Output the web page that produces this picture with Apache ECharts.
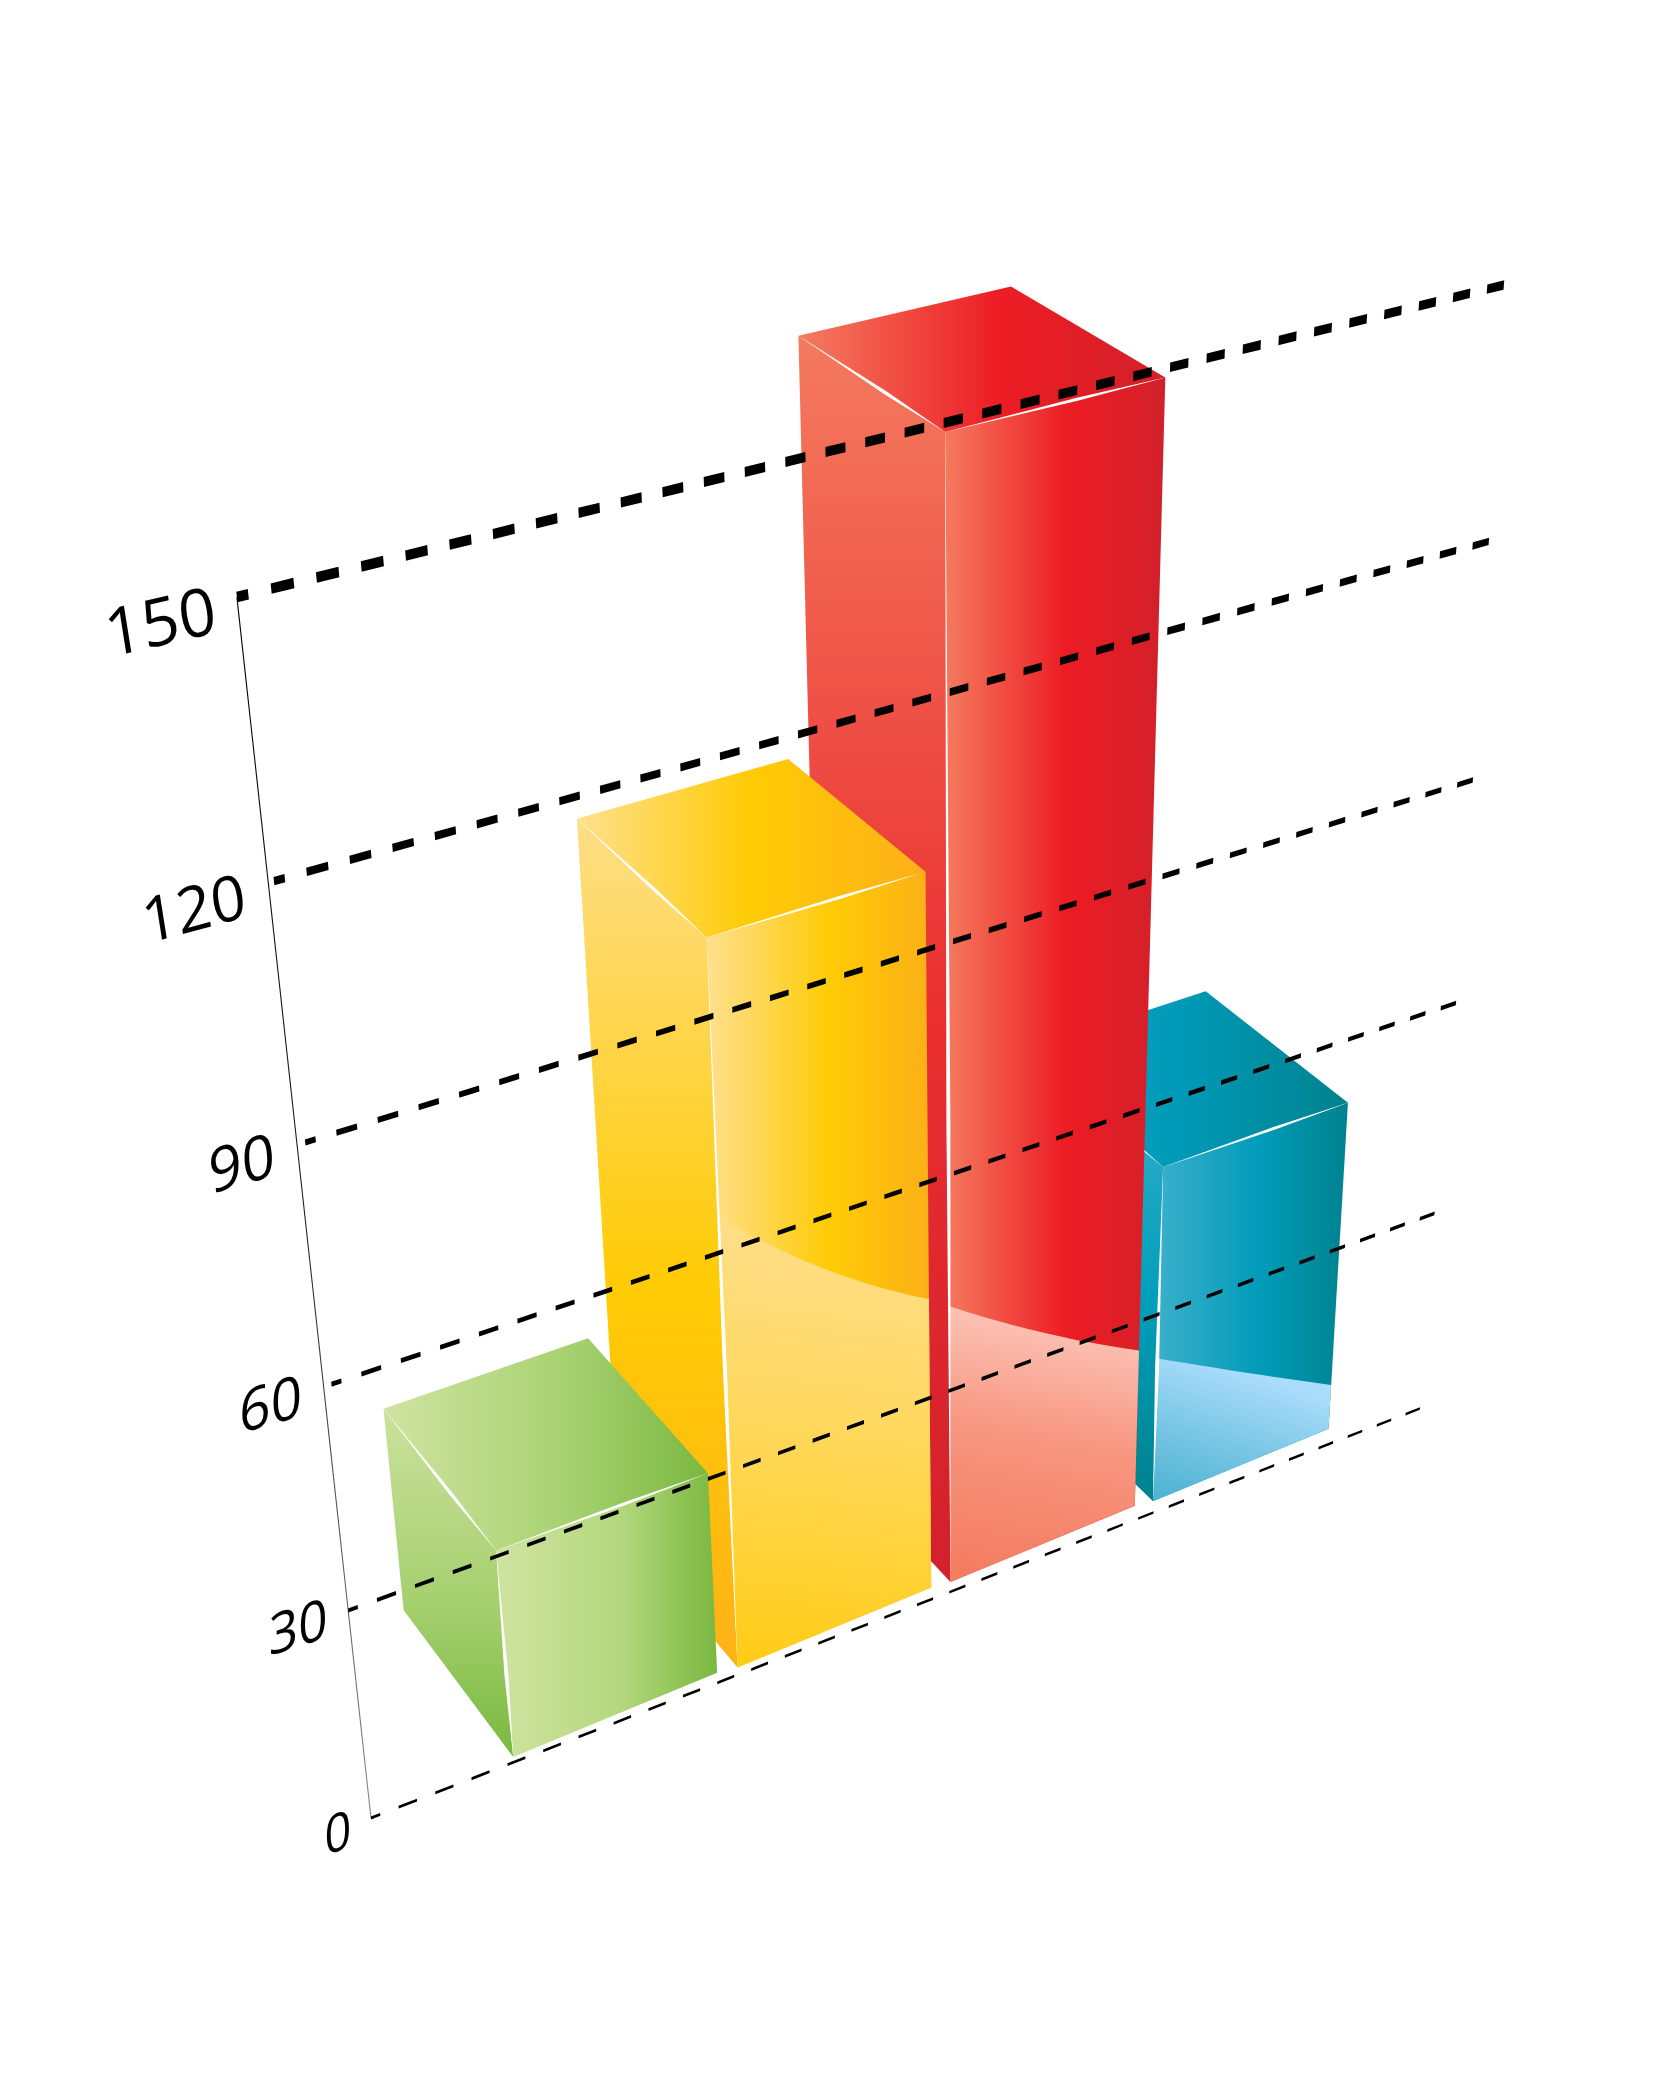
<!DOCTYPE html>
<html><head><meta charset="utf-8">
<style>html,body{margin:0;padding:0;background:#fff}#chart{width:1667px;height:2083px}</style>
<script src="https://cdn.jsdelivr.net/npm/echarts@6/dist/echarts.min.js"></script>
</head><body><div id="chart"></div>
<script>
// ---- data ----
const barNames = ['Green', 'Yellow', 'Red', 'Blue'];
const barValues = [30.8, 99.6, 149, 51];
const gridTicks = [0, 30, 60, 90, 120, 150];
const tickLabels = ['0', '30', '60', '90', '120', '150'];
// height (axis value) of the pale reflection edge on each front face: left, middle, right
const reflectLevels = [null, [64.5, 52.9, 44], [42, 33.2, 25.7], [23.5, 16.3, 9.3]];
// height at which each bar's foot sits above the zero line
const baseLevels = [0.8, 1.1, 1.5, 1.8];

// ---- styles ----
const barPalette = [
  { right: ['#cfe3a0', '#b5d87f', '#7ab840'], rightAt: .55, left: ['#cbe19d', '#a6d06f', '#79b93f'], top: ['#cfe3a0', '#a9d273', '#7ab840'], topAt: .55 },
  { right: ['#ffe08e', '#ffcb05', '#fbb017'], rightAt: .55, left: ['#fede86', '#ffcb05', '#fdb216'], top: ['#ffe08e', '#ffcb05', '#fdb017'], topAt: .5, glow: ['#fede8a', '#ffd85c', '#ffcc14'] },
  { right: ['#f47a5e', '#ed1c24', '#d2202a'], rightAt: .55, left: ['#f47a5e', '#ea2e30', '#d2202c'], top: ['#f47c60', '#ed1c24', '#d2212a'], topAt: .55, glow: ['#fcc5b8', '#f7957f', '#f47a5e'] },
  { right: ['#3db0cc', '#009bb9', '#00828f'], rightAt: .55, left: ['#3db0cc', '#009fbc', '#00818e'], top: ['#18a3c0', '#009bb9', '#00828f'], topAt: .45, glow: ['#aadcfb', '#7cc8e6', '#49b2d0'] }
];
const dashWeights = [.42, .55, .62, .72, .9, 1.05];
const dashStarts = [0, 0, .03, .03, .02, 0];
const labelSizes = [50, 54, 57, 60, 62, 66];
const labelAngles = [20, 18, 16, 16, 15, 13];
const labelShears = [20, 18, 16, 12, 6, 4];
const labelShift = [[-33, 18], [-50, 20], [-53, 21], [-55, 22], [-74, 30], [-76, 29]];

// ---- perspective camera ----
const VP_U = [9075, -1580], VP_D = [-1840, -1394], VP_V = [977, 7335], ORIGIN = [371, 1818];
const W = 1667, H = 2083;
const AXIS_U_MAX = 5.04, SLOT_STEP = .0275, HEIGHT_SPAN = -.1812, BAR_DEPTH = .0496;
const BAR_START = .606, BAR_PITCH = .994, BAR_SPAN = .902, DASH_PERIOD = .1545, BASE_RISE = .7;

function camera(api) {
  return function (u, depth, v) {
    const c = api.coord([u, v]);
    const su = c[0] / W * AXIS_U_MAX * SLOT_STEP;
    const sv = (H - c[1]) / H * HEIGHT_SPAN;
    const sd = depth * BAR_DEPTH;
    const w = 1 + su + sd + sv;
    return [
      (ORIGIN[0] + su * VP_U[0] + sd * VP_D[0] + sv * VP_V[0]) / w,
      (ORIGIN[1] + su * VP_U[1] + sd * VP_D[1] + sv * VP_V[1]) / w
    ];
  };
}
const hGrad = (c, at) => ({ type: 'linear', x: 0, y: 0, x2: 1, y2: 0, colorStops: [{ offset: 0, color: c[0] }, { offset: at, color: c[1] }, { offset: 1, color: c[2] }] });
const vGrad = c => ({ type: 'linear', x: 0, y: 0, x2: 0, y2: 1, colorStops: [{ offset: 0, color: c[0] }, { offset: .55, color: c[1] }, { offset: 1, color: c[2] }] });
const poly = (points, fill) => ({ type: 'polygon', shape: { points }, style: { fill } });
function lens(a, b, w, fill) {
  const dx = b[0] - a[0], dy = b[1] - a[1], l = Math.hypot(dx, dy);
  const nx = -dy / l * w / 2, ny = dx / l * w / 2, mx = a[0] + dx * .6, my = a[1] + dy * .6;
  return poly([a, [mx + nx, my + ny], b, [mx - nx, my - ny]], fill || '#fff');
}

function renderBar(params, api) {
  const i = api.value(0), v = api.value(1), P = camera(api), pal = barPalette[i], b0 = baseLevels[i];
  const u0 = i * BAR_PITCH + BAR_START, u1 = u0 + BAR_SPAN, b1 = b0 + BASE_RISE;
  const children = [
    poly([P(u0, 1, v), P(u0, 0, v), P(u0, 0, b0), P(u0, 1, b0)], vGrad(pal.left)),
    poly([P(u0, 0, v), P(u1, 0, v), P(u1, 0, b1), P(u0, 0, b0)], hGrad(pal.right, pal.rightAt)),
    poly([P(u0, 1, v), P(u1, 1, v), P(u1, 0, v), P(u0, 0, v)], hGrad(pal.top, pal.topAt))
  ];
  const lv = reflectLevels[i];
  if (lv) {
    const edge = [];
    for (let k = 0; k <= 12; k++) {
      const t = k / 12;
      const h = lv[0] * (1 - t) * (1 - 2 * t) + lv[1] * 4 * t * (1 - t) + lv[2] * t * (2 * t - 1);
      edge.push(P(u0 + BAR_SPAN * t, 0, h));
    }
    children.push(poly(edge.concat([P(u1, 0, b1), P(u0, 0, b0)]), {
      type: 'linear', x: .25, y: 0, x2: 0, y2: 1,
      colorStops: [{ offset: 0, color: pal.glow[0] }, { offset: .45, color: pal.glow[1] }, { offset: 1, color: pal.glow[2] }]
    }));
  }
  children.push(
    lens(P(u0, 0, v), P(u0, 0, b0), 4),
    lens(P(u0, 1, v), P(u0, 0, v), 3.4),
    lens(P(u0, 0, v), P(u1, 0, v), 3)
  );
  return { type: 'group', children };
}

function renderGrid(params, api) {
  const idx = api.value(0), v = api.value(1), P = camera(api), t = dashWeights[idx] / 2, s = dashStarts[idx];
  const children = [];
  for (let k = 0; s + (k - .25) * DASH_PERIOD < AXIS_U_MAX; k++) {
    const a = s + Math.max(0, (k - .25) * DASH_PERIOD), b = Math.min(AXIS_U_MAX, s + (k + .25) * DASH_PERIOD);
    children.push(poly([P(a, 0, v + t), P(b, 0, v + t), P(b, 0, v - t), P(a, 0, v - t)], '#000'));
  }
  return { type: 'group', children };
}

function renderLabel(params, api) {
  const idx = api.value(0), v = api.value(1), p = camera(api)(0, 0, v), s = labelShift[idx];
  return {
    type: 'text', x: p[0] + s[0], y: p[1] + s[1],
    rotation: labelAngles[idx] * Math.PI / 180,
    skewX: -labelShears[idx] * Math.PI / 180,
    style: { text: tickLabels[idx], fontFamily: 'Open Sans', fontSize: labelSizes[idx], fill: '#000', align: 'center', verticalAlign: 'middle' }
  };
}

function renderAxisLine(params, api) {
  const P = camera(api), a = P(0, 0, gridTicks[0]), b = P(0, 0, gridTicks[gridTicks.length - 1]);
  return {
    type: 'line', shape: { x1: a[0], y1: a[1], x2: b[0], y2: b[1] },
    style: { lineWidth: 1.1, stroke: { type: 'linear', x: 0, y: 1, x2: 0, y2: 0, colorStops: [{ offset: 0, color: '#888' }, { offset: .5, color: '#222' }, { offset: 1, color: '#000' }] } }
  };
}

const tickData = gridTicks.map((t, i) => [i, t]);
const custom = (name, renderItem, data) => ({
  type: 'custom', name, renderItem, data, clip: false, silent: true, animation: false,
  encode: { x: 0, y: 1 }
});
const chart = echarts.init(document.getElementById('chart'), null, { renderer: 'canvas', width: W, height: H });
chart.setOption({
  backgroundColor: '#fff',
  animation: false,
  grid: { left: 0, top: 0, width: W, height: H, show: false },
  xAxis: { type: 'value', min: 0, max: AXIS_U_MAX, show: false },
  yAxis: { type: 'value', min: 0, max: 150, interval: 30, show: false },
  series: [
    custom('axis', renderAxisLine, [[0, 0]]),
    custom('bars', renderBar, barValues.map((v, i) => [i, v, barNames[i]]).reverse()),
    custom('gridlines', renderGrid, tickData),
    custom('ticks', renderLabel, tickData)
  ]
});
</script></body></html>
